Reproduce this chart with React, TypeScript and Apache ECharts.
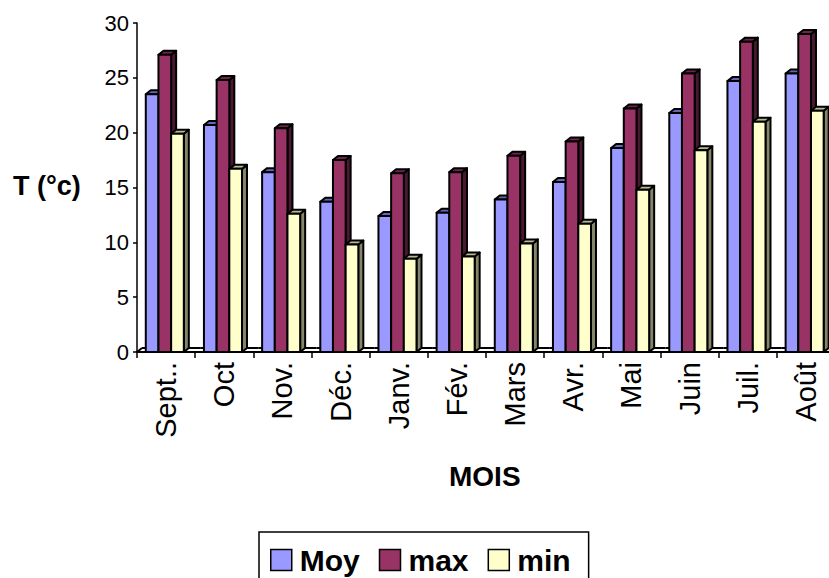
import React, { useEffect, useRef } from "react";
import * as echarts from "echarts";

const categories = ["Sept..", "Oct", "Nov.", "Déc.", "Janv.", "Fév.", "Mars", "Avr.", "Mai", "Juin", "Juil.", "Août"];
const moyValues = [23.5, 20.7, 16.4, 13.7, 12.4, 12.7, 13.9, 15.5, 18.6, 21.8, 24.7, 25.4];
const maxValues = [27.1, 24.8, 20.4, 17.5, 16.3, 16.4, 17.9, 19.2, 22.2, 25.4, 28.3, 29.0];
const minValues = [19.9, 16.7, 12.6, 9.8, 8.5, 8.7, 9.9, 11.7, 14.8, 18.4, 21.0, 22.0];
const seriesNames = ["Moy", "max", "min"];
const yTicks = { min: 0, max: 30, interval: 5 };

const FONT = "'Liberation Sans', Arial, Helvetica, sans-serif";
const palette = [
  { front: "#9999FF", top: "#6666B8", side: "#4D4D88" },
  { front: "#993366", top: "#6E2449", side: "#4A1830" },
  { front: "#FFFFCC", top: "#B8B894", side: "#85856A" },
];
const DX = 5;
const DY = 4;

function makeRender(k: number) {
  return (params: any, api: any) => {
    const ci = api.value(0);
    const v = api.value(1);
    const w = api.size([1, 0])[0];
    const base = api.coord([ci, 0]);
    const top = api.coord([ci, v]);
    const bw = w * 0.218;
    const left = base[0] - w / 2 + w * 0.151 + k * bw;
    const c = palette[k];
    const stroke = { stroke: "#000", lineWidth: 2, lineJoin: "round" };
    return {
      type: "group",
      children: [
        {
          type: "polygon",
          shape: {
            points: [
              [left + bw, top[1]],
              [left + bw + DX, top[1] - DY],
              [left + bw + DX, base[1] - DY],
              [left + bw, base[1]],
            ],
          },
          style: { fill: c.side, ...stroke },
        },
        {
          type: "polygon",
          shape: {
            points: [
              [left, top[1]],
              [left + DX, top[1] - DY],
              [left + bw + DX, top[1] - DY],
              [left + bw, top[1]],
            ],
          },
          style: { fill: c.top, ...stroke },
        },
        {
          type: "rect",
          shape: { x: left, y: top[1], width: bw, height: base[1] - top[1] },
          style: { fill: c.front, ...stroke },
        },
      ],
    };
  };
}

function floorRender(params: any, api: any) {
  const ci = api.value(0);
  const w = api.size([1, 0])[0];
  const base = api.coord([ci, 0]);
  const l = base[0] - w / 2;
  const r = base[0] + w / 2;
  const children: any[] = [
    {
      type: "line",
      shape: { x1: l + DX, y1: base[1] - DY, x2: r + DX, y2: base[1] - DY },
      style: { stroke: "#000", lineWidth: 2 },
    },
  ];
  if (ci === 0) {
    children.push({
      type: "line",
      shape: { x1: l, y1: base[1], x2: l + DX, y2: base[1] - DY },
      style: { stroke: "#000", lineWidth: 2 },
    });
  }
  return { type: "group", children };
}

export default function App() {
  const ref = useRef<HTMLDivElement>(null);
  useEffect(() => {
    if (!ref.current) return;
    const chart = echarts.init(ref.current, null, { renderer: "svg" });
    const allValues = [moyValues, maxValues, minValues];
    const option: any = {
      animation: false,
      backgroundColor: "#fff",
      textStyle: { fontFamily: FONT, color: "#000" },
      grid: { left: 137, top: 23, width: 698, height: 329, outerBoundsMode: "none", containLabel: false },
      legend: {
        data: seriesNames,
        left: 259,
        top: 532,
        orient: "horizontal",
        icon: "rect",
        itemWidth: 21,
        itemHeight: 21,
        itemGap: 19,
        padding: [13, 18, 20, 11],
        borderColor: "#000",
        borderWidth: 1.5,
        borderRadius: 0,
        backgroundColor: "#fff",
        itemStyle: { borderColor: "#000", borderWidth: 1.5 },
        textStyle: { fontFamily: FONT, fontSize: 30, fontWeight: "bold", color: "#000", padding: [0, 0, 0, 3] },
      },
      xAxis: {
        type: "category",
        data: categories,
        boundaryGap: true,
        axisLine: { show: true, lineStyle: { color: "#000", width: 2 } },
        axisTick: { show: true, alignWithLabel: false, length: 6, lineStyle: { color: "#000", width: 1.5 } },
        axisLabel: { rotate: 90, margin: 10, fontSize: 29, color: "#000", fontFamily: FONT, interval: 0 },
        splitLine: { show: false },
      },
      yAxis: {
        type: "value",
        min: yTicks.min,
        max: yTicks.max,
        interval: yTicks.interval,
        axisLine: { show: true, lineStyle: { color: "#000", width: 1.5 } },
        axisTick: { show: true, length: 4, lineStyle: { color: "#000", width: 1.5 } },
        axisLabel: { margin: 8, fontSize: 22, color: "#000", fontFamily: FONT },
        splitLine: { show: false },
      },
      graphic: [
        {
          type: "text",
          left: 13,
          top: 172,
          style: { text: "T (°c)", font: `bold 27px ${FONT}`, fill: "#000" },
        },
        {
          type: "text",
          left: 449,
          top: 462,
          style: { text: "MOIS", font: `bold 28px ${FONT}`, fill: "#000" },
        },
      ],
      series: [
        {
          type: "custom",
          name: "floor",
          silent: true,
          renderItem: floorRender,
          data: categories.map((_, i) => [i, 0]),
          encode: { x: 0, y: 1 },
          z: 1,
        },
        ...seriesNames.map((name, k) => ({
          type: "custom",
          name,
          renderItem: makeRender(k),
          itemStyle: { color: palette[k].front },
          data: allValues[k].map((v, i) => [i, v]),
          encode: { x: 0, y: 1 },
          z: 2,
        })),
      ],
    };
    chart.setOption(option);
    return () => chart.dispose();
  }, []);
  return (
    <div style={{ position: "fixed", left: 0, top: 0, width: 829, height: 578, overflow: "hidden", background: "#fff" }}>
      <div ref={ref} style={{ width: 845, height: 600 }} />
    </div>
  );
}
